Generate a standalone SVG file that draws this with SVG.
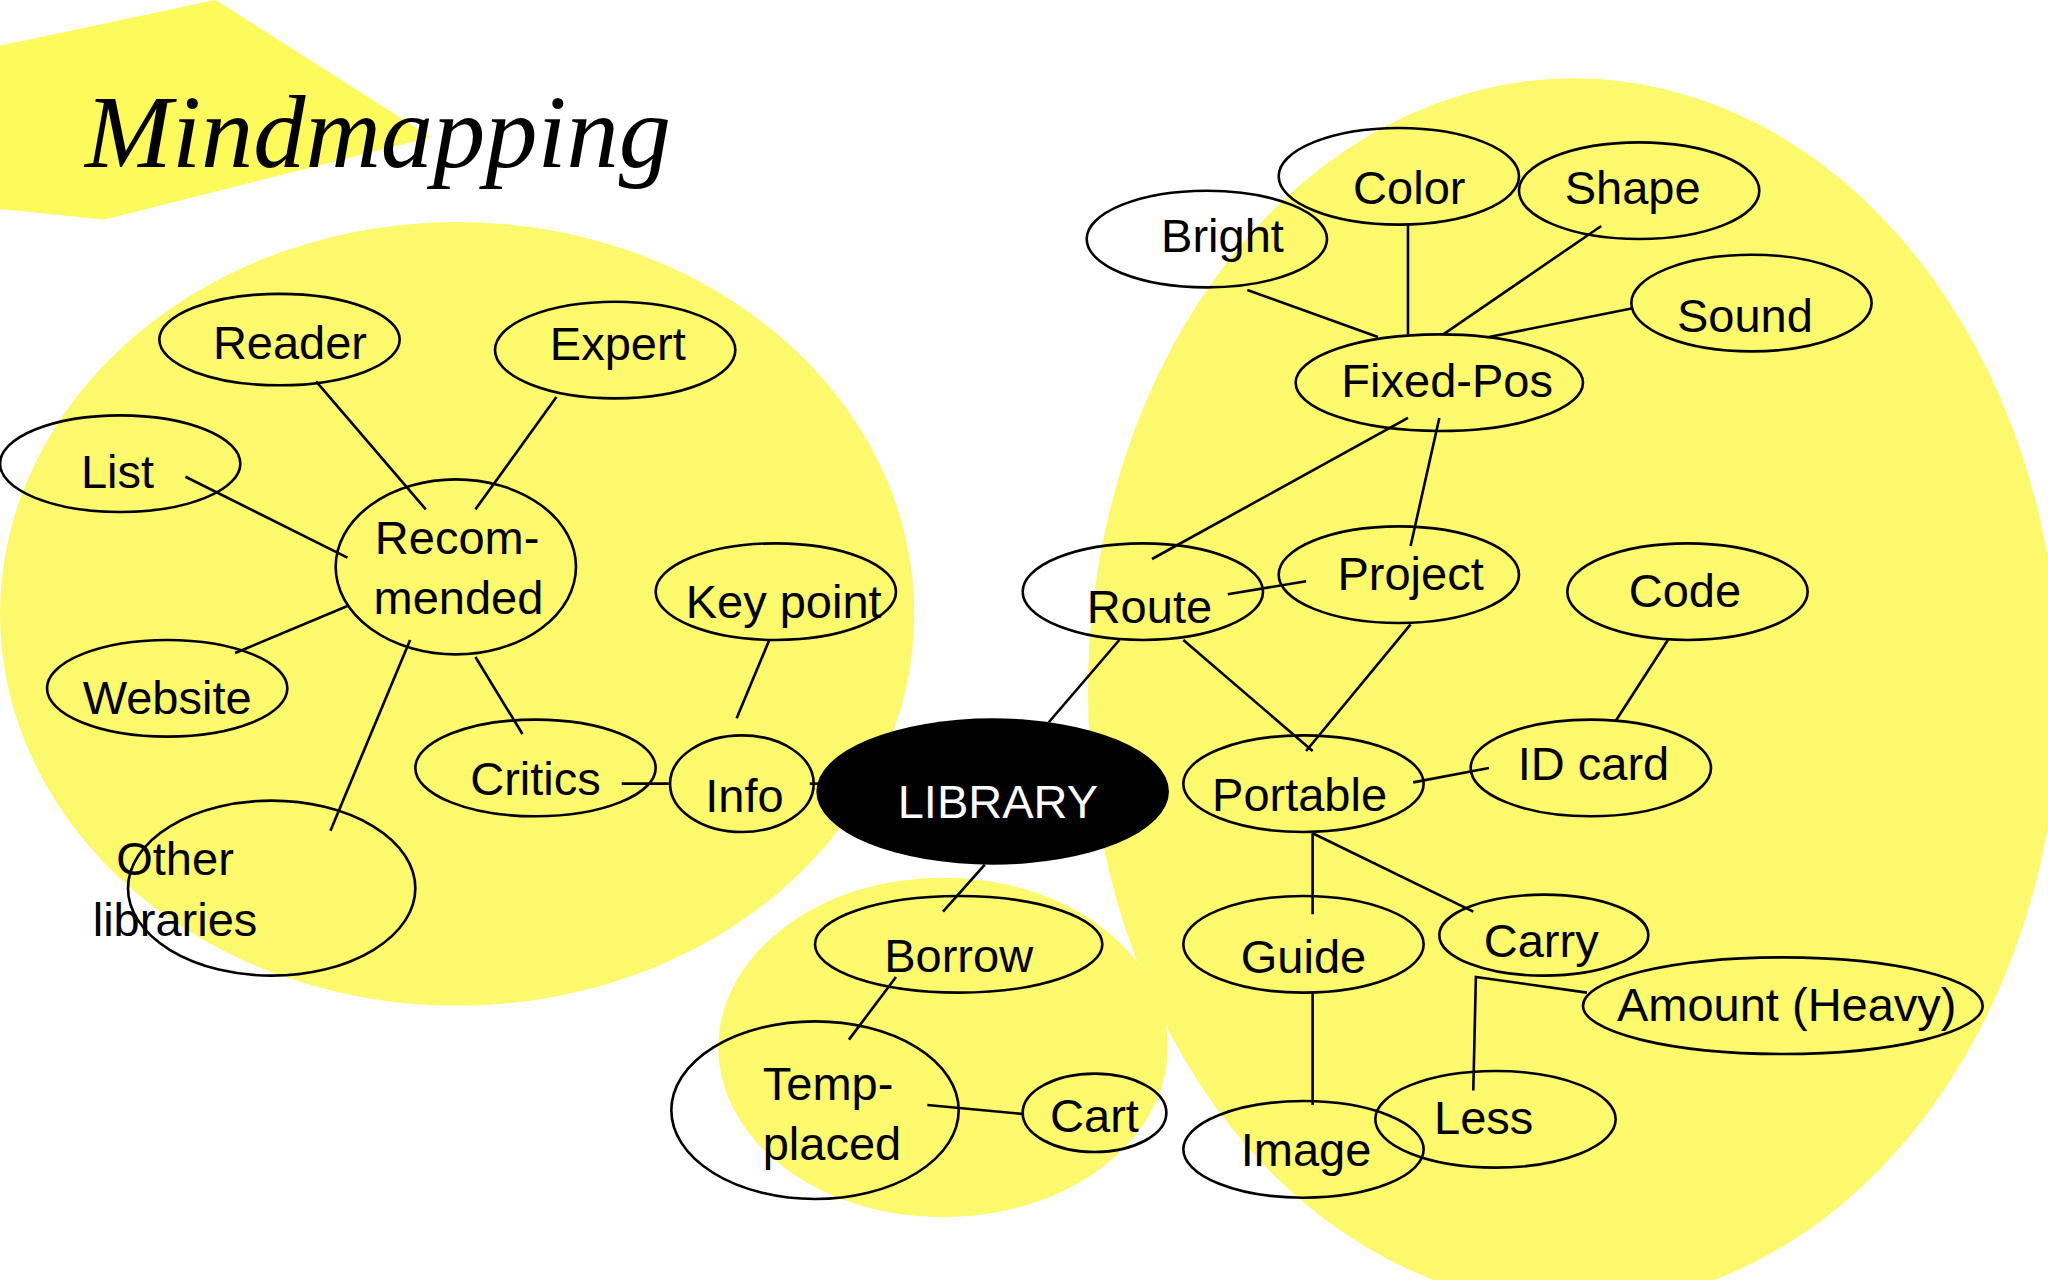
<svg xmlns="http://www.w3.org/2000/svg" width="2048" height="1280" viewBox="0 0 2048 1280">
<style>
.n{fill:none;stroke:#000;stroke-width:2}
.t{font-family:"Liberation Sans",Arial,sans-serif;font-size:36px;text-anchor:middle;fill:#000}
.c line,.c polyline{stroke:#000;stroke-width:2;fill:none}
.bg{fill:#fdf96c}
</style>
<rect width="2048" height="1280" fill="#fff"/>
<g transform="scale(1.3061)">
<g id="background">
<polygon points="0,35 165,0 330,105 80,168 0,160" fill="#fdfa5c"/>
<ellipse class="bg" cx="350" cy="470" rx="350" ry="300"/>
<ellipse class="bg" cx="722" cy="802" rx="172" ry="130"/>
<ellipse class="bg" cx="1205" cy="530" rx="372" ry="470"/>
</g>
<text x="65" y="128" font-family="Liberation Serif,serif" font-style="italic" font-size="80">Mindmapping</text>
<g class="c" id="connectors">
<line x1="242" y1="292" x2="326" y2="390"/>
<line x1="426" y1="304" x2="364" y2="390"/>
<line x1="142" y1="365" x2="266" y2="427"/>
<line x1="180" y1="500" x2="266" y2="464"/>
<line x1="253" y1="636" x2="314" y2="490"/>
<line x1="400" y1="562" x2="364" y2="503"/>
<line x1="476" y1="600" x2="512" y2="600"/>
<line x1="589" y1="490" x2="564" y2="550"/>
<line x1="620" y1="600" x2="628" y2="600"/>
<line x1="803" y1="553" x2="857" y2="490"/>
<line x1="754" y1="662" x2="722" y2="698"/>
<line x1="686" y1="748" x2="650" y2="796"/>
<line x1="710" y1="846" x2="784" y2="853"/>
<line x1="882" y1="428" x2="1078" y2="320"/>
<line x1="940" y1="455" x2="1000" y2="445"/>
<line x1="1102" y1="320" x2="1080" y2="418"/>
<line x1="906" y1="490" x2="1005" y2="575"/>
<line x1="1080" y1="478" x2="1000" y2="575"/>
<line x1="955" y1="222" x2="1055" y2="258"/>
<line x1="1078" y1="172" x2="1078" y2="256"/>
<line x1="1226" y1="173" x2="1105" y2="256"/>
<line x1="1250" y1="236" x2="1140" y2="258"/>
<line x1="1277" y1="490" x2="1237" y2="552"/>
<line x1="1082" y1="599" x2="1140" y2="588"/>
<line x1="1005" y1="638" x2="1005" y2="700"/>
<line x1="1005" y1="638" x2="1128" y2="698"/>
<line x1="1005" y1="760" x2="1005" y2="846"/>
<polyline points="1128,835 1130,748 1215,760"/>
</g>
<g id="list"><ellipse class="n" cx="92" cy="355" rx="92" ry="37"/><text class="t" x="90" y="374">List</text></g>
<g id="reader"><ellipse class="n" cx="214" cy="260" rx="92" ry="35"/><text class="t" x="222" y="275">Reader</text></g>
<g id="expert"><ellipse class="n" cx="471" cy="268" rx="92" ry="37"/><text class="t" x="473" y="276">Expert</text></g>
<g id="recommended"><ellipse class="n" cx="349" cy="434" rx="92" ry="67"/><text class="t" x="350" y="424">Recom-</text><text class="t" x="351" y="470">mended</text></g>
<g id="website"><ellipse class="n" cx="128" cy="527" rx="92" ry="37"/><text class="t" x="128" y="547">Website</text></g>
<g id="critics"><ellipse class="n" cx="410" cy="588" rx="92" ry="37"/><text class="t" x="410" y="609">Critics</text></g>
<g id="other"><ellipse class="n" cx="208" cy="680" rx="110" ry="67"/><text class="t" x="134" y="670" text-anchor="start">Other</text><text class="t" x="134" y="717" text-anchor="start">libraries</text></g>
<g id="keypoint"><ellipse class="n" cx="594" cy="453" rx="92" ry="37"/><text class="t" x="600" y="473">Key point</text></g>
<g id="info"><ellipse class="n" cx="568" cy="600" rx="55" ry="37"/><text class="t" x="570" y="622" font-size="48">Info</text></g>
<g id="library"><ellipse cx="760" cy="606" rx="135" ry="56" fill="#000"/><text class="t" x="764" y="626" font-size="48" fill="#fff" style="fill:#fff">LIBRARY</text></g>
<g id="borrow"><ellipse class="n" cx="734" cy="723" rx="110" ry="37"/><text class="t" x="734" y="744" font-size="48">Borrow</text></g>
<g id="temp"><ellipse class="n" cx="624" cy="850" rx="110" ry="68"/><text class="t" x="634" y="842">Temp-</text><text class="t" x="637" y="888">placed</text></g>
<g id="cart"><ellipse class="n" cx="838" cy="852" rx="55" ry="30"/><text class="t" x="838" y="867">Cart</text></g>
<g id="route"><ellipse class="n" cx="875" cy="453" rx="92" ry="37"/><text class="t" x="880" y="477" font-size="52">Route</text></g>
<g id="project"><ellipse class="n" cx="1071" cy="440" rx="92" ry="37"/><text class="t" x="1080" y="452">Project</text></g>
<g id="fixedpos"><ellipse class="n" cx="1102" cy="293" rx="110" ry="37"/><text class="t" x="1108" y="304">Fixed-Pos</text></g>
<g id="bright"><ellipse class="n" cx="924" cy="183" rx="92" ry="37"/><text class="t" x="936" y="193">Bright</text></g>
<g id="color"><ellipse class="n" cx="1071" cy="135" rx="92" ry="37"/><text class="t" x="1079" y="156">Color</text></g>
<g id="shape"><ellipse class="n" cx="1255" cy="146" rx="92" ry="37"/><text class="t" x="1250" y="156">Shape</text></g>
<g id="sound"><ellipse class="n" cx="1341" cy="232" rx="92" ry="37"/><text class="t" x="1336" y="254">Sound</text></g>
<g id="code"><ellipse class="n" cx="1292" cy="453" rx="92" ry="37"/><text class="t" x="1290" y="465">Code</text></g>
<g id="portable"><ellipse class="n" cx="998" cy="600" rx="92" ry="37"/><text class="t" x="995" y="621">Portable</text></g>
<g id="idcard"><ellipse class="n" cx="1218" cy="588" rx="92" ry="37"/><text class="t" x="1220" y="597">ID card</text></g>
<g id="guide"><ellipse class="n" cx="998" cy="723" rx="92" ry="37"/><text class="t" x="998" y="745">Guide</text></g>
<g id="carry"><ellipse class="n" cx="1182" cy="716" rx="80" ry="31"/><text class="t" x="1180" y="733">Carry</text></g>
<g id="amount"><ellipse class="n" cx="1365" cy="770" rx="153" ry="37"/><text class="t" x="1368" y="782">Amount (Heavy)</text></g>
<g id="image"><ellipse class="n" cx="998" cy="880" rx="92" ry="37"/><text class="t" x="1000" y="893">Image</text></g>
<g id="less"><ellipse class="n" cx="1145" cy="857" rx="92" ry="37"/><text class="t" x="1136" y="868">Less</text></g>
</g>
</svg>
